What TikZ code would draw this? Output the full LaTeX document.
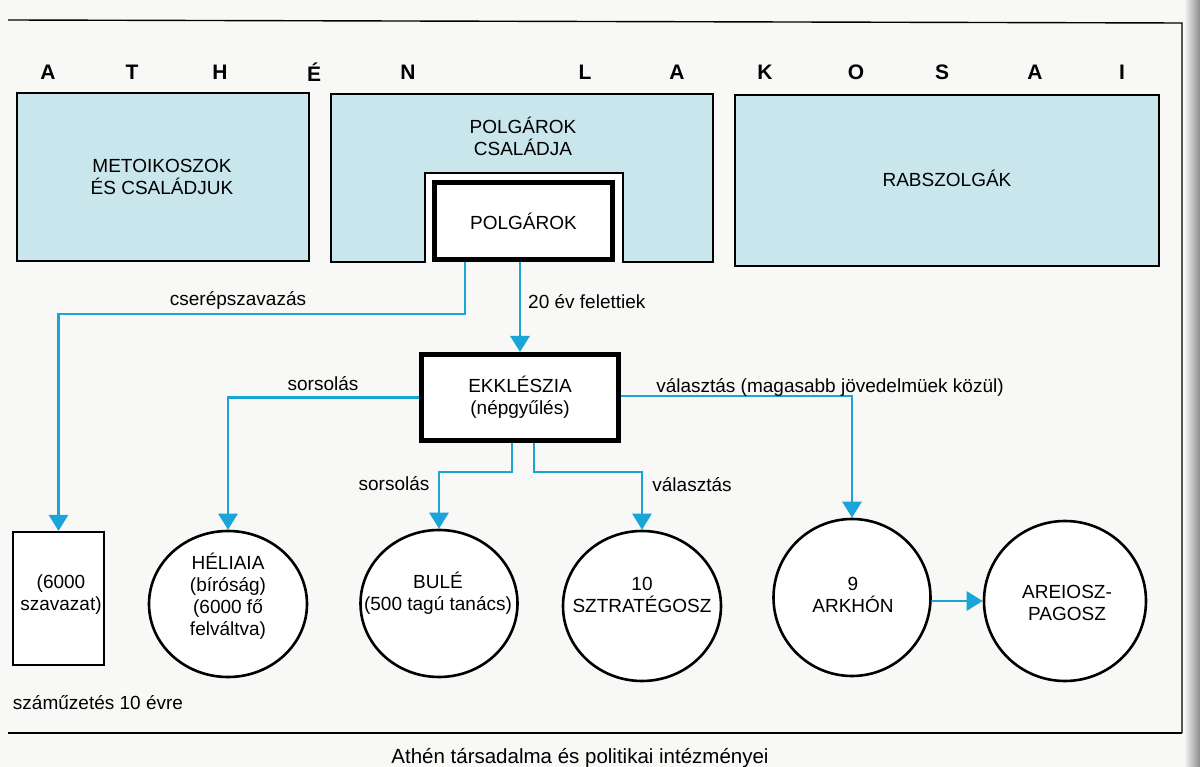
\documentclass[tikz,border=0pt]{standalone}
\usepackage{fontspec}
\setmainfont{Liberation Sans}
\usetikzlibrary{arrows.meta,shapes.geometric}
\definecolor{boxblue}{RGB}{200,230,236}
\definecolor{linkblue}{RGB}{25,165,215}
\definecolor{paper}{RGB}{248,248,246}
\begin{document}
\begin{tikzpicture}[x=1pt,y=-1pt,
  popbox/.style={draw=black, line width=1.6pt, fill=boxblue, inner sep=0pt, outer sep=0pt},
  thickbox/.style={draw=black, line width=5pt, fill=white, inner sep=0pt, align=center, font=\fontsize{19}{22}\selectfont},
  exbox/.style={draw=black, line width=2.2pt, fill=white, inner sep=0pt},
  inst/.style={ellipse, draw=black, line width=2.6pt, fill=white, inner sep=0pt},
  txt/.style={align=center, inner sep=0pt, font=\fontsize{19}{22}\selectfont},
  lbl/.style={inner sep=0pt, font=\fontsize{19}{22}\selectfont},
  bigletter/.style={inner sep=0pt, font=\bfseries\fontsize{21}{21}\selectfont},
  link/.style={draw=linkblue, line width=2.8pt, -{Triangle[width=19pt,length=16pt]}},
  frame/.style={draw=black, line width=1.4pt}
]
\useasboundingbox (0,0) rectangle (1200,767);
\fill[paper] (0,0) rectangle (1200,767);
% page gutter
\shade[left color=paper, right color=black!45] (1184,0) rectangle (1200,767);

% frame lines
\coordinate (tl) at (8,20);
\coordinate (tr) at (1182,23);
\coordinate (bl) at (8,733);
\coordinate (br) at (1182,733);
\draw[frame] (tl) -- (tr) -- (br);
\draw[frame] (bl) -- (br);

% title letters
\foreach \ch/\xx [count=\i] in {A/48,T/132,H/220,É/314,N/408,L/585,A/677,K/765,O/856,S/942,A/1035,I/1122}
  \node[bigletter] (let\i) at (\xx,72) {\ch};

% population boxes
\node[popbox, minimum width=292, minimum height=168] (meto) at (163,177) {};
\node[txt] (metot) at (162,177) {METOIKOSZOK\\ÉS CSALÁDJUK};

\draw[popbox] (331,94) -- (713,94) -- (713,262) -- (623,262) -- (623,173) -- (425,173) -- (425,262) -- (331,262) -- cycle;
\draw[draw=black, line width=1.6pt, fill=white] (425,262) -- (425,173) -- (623,173) -- (623,262);
\node[txt] (csal) at (523,136) {POLGÁROK\\CSALÁDJA};

\node[popbox, minimum width=424, minimum height=171] (rab) at (947,180.5) {};
\node[txt] (rabt) at (947,178) {RABSZOLGÁK};

\node[thickbox, minimum width=178, minimum height=77] (polg) at (523.5,221) {POLGÁROK};

% assembly
\node[thickbox, minimum width=197, minimum height=86] (ekk) at (520,397.5) {EKKLÉSZIA\\(népgyűlés)};

% exile box
\node[exbox, minimum width=91, minimum height=133] (exile) at (58.5,598.5) {};
\node[txt] (exilet) at (61,595) {(6000\\szavazat)};
\node[lbl] (szam) at (98,703) {száműzetés 10 évre};

% institutions
\node[inst, minimum width=158, minimum height=146] (hel) at (228,604) {};
\node[txt] (helt) at (228,596.5) {HÉLIAIA\\(bíróság)\\(6000 fő\\felváltva)};

\node[inst, minimum width=157, minimum height=147] (bule) at (439,603.5) {};
\node[txt] (bulet) at (438,593.5) {BULÉ\\(500 tagú tanács)};

\node[inst, minimum width=158, minimum height=150] (szt) at (642,606) {};
\node[txt] (sztt) at (642,594.5) {10\\SZTRATÉGOSZ};

\node[inst, minimum width=157, minimum height=157] (ark) at (852,597.5) {};
\node[txt] (arkt) at (853,594.5) {9\\ARKHÓN};

\node[inst, minimum width=162, minimum height=160] (are) at (1065,601) {};
\node[txt] (aret) at (1067,602.5) {AREIOSZ-\\PAGOSZ};

% connectors
\draw[link] ([xshift=-58.5pt]polg.south) -- ++(0,52) -| (exile.north);
\draw[link] (polg.south -| ekk.north) -- (ekk.north);
\draw[link] (ekk.west) -| (hel.north);
\draw[link] ([xshift=-8pt]ekk.south) -- ++(0,29) -| (bule.north);
\draw[link] ([xshift=14pt]ekk.south) -- ++(0,29) -| (szt.north);
\draw[link] ([yshift=1.5pt]ekk.east) -| (ark.north);
\draw[link] (ark.east |- are.west) -- (are.west);

% connector labels
\node[lbl] (l-cser) at (238,300) {cserépszavazás};
\node[lbl, anchor=west] (l-20) at (528,302) {20 év felettiek};
\node[lbl] (l-sors1) at (323,384) {sorsolás};
\node[lbl] (l-sors2) at (394,484) {sorsolás};
\node[lbl] (l-val1) at (692,485) {választás};
\node[lbl] (l-val2) at (830,387) {választás (magasabb jövedelmüek közül)};

% caption
\node[lbl, anchor=base, font=\fontsize{20.5}{24}\selectfont] (cap) at (580,763) {Athén társadalma és politikai intézményei};
\end{tikzpicture}
\end{document}
